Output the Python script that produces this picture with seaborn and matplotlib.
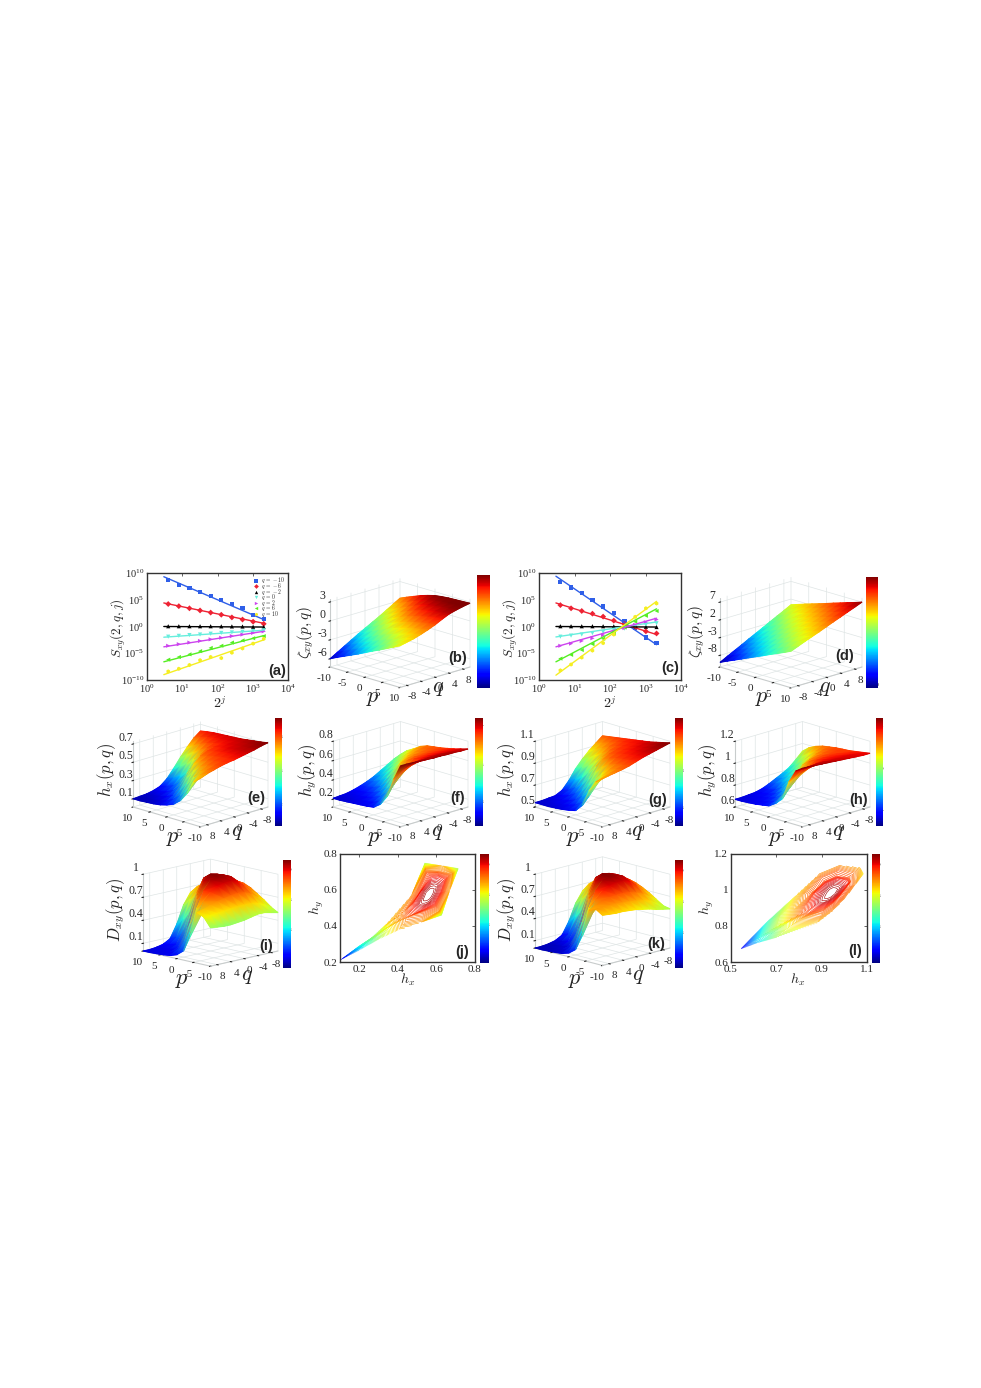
import numpy as np
import pandas as pd
import matplotlib
matplotlib.use("Agg")
import matplotlib.pyplot as plt
import seaborn as sns
from matplotlib.cm import ScalarMappable
from matplotlib.collections import TriMesh
from matplotlib.colors import Normalize
from matplotlib.transforms import IdentityTransform
from matplotlib.tri import Triangulation
from mpl_toolkits.mplot3d import proj3d

W, H = 981, 1388

# scales of the structure function panels
scale_x = [4, 8, 16, 32, 64, 128, 256, 512, 1024, 2048]
fit_x = [3, 2048]
q_names = ["$q\\,=\\,-10$", "$q\\,=\\,-6$", "$q\\,=\\,-2$", "$q\\,=\\,0$", "$q\\,=\\,2$", "$q\\,=\\,6$", "$q\\,=\\,10$"]
q_colors = ["#2f5fe8", "#ee2233", "#000000", "#66eedd", "#cc44ee", "#55ee22", "#f5ee22"]
q_markers = ["s", "D", "^", "v", ">", "<", "h"]

# log10 S values, panel a
a_points = [
    [8.7, 7.8, 7.2, 6.4, 5.7, 5.0, 4.2, 3.4, 2.2, 1.4],
    [4.2, 3.8, 3.4, 3.0, 2.6, 2.2, 1.7, 1.3, 0.9, 0.5],
    [0.05, 0.05, 0.05, 0.05, 0.05, 0.03, 0.02, 0.0, -0.05, -0.1],
    [-1.9, -1.75, -1.6, -1.5, -1.35, -1.2, -1.1, -1.0, -0.85, -0.7],
    [-3.6, -3.3, -3.0, -2.7, -2.4, -2.1, -1.8, -1.5, -1.2, -0.9],
    [-6.2, -5.7, -5.2, -4.6, -4.0, -3.6, -3.0, -2.6, -2.2, -1.8],
    [-8.4, -7.9, -7.2, -6.3, -5.7, -5.9, -4.9, -4.1, -3.2, -2.3],
]
a_fits = [[9.3, 1.3], [4.4, 0.6], [0.0, -0.1], [-2.0, -0.7], [-3.8, -0.9], [-6.6, -1.7], [-9.0, -2.5]]

# log10 S values, panel c
c_points = [
    [8.3, 7.3, 6.25, 5.0, 3.75, 2.6, 1.05, -0.3, -2.05, -3.1],
    [4.0, 3.4, 2.9, 2.4, 1.85, 1.1, 0.5, -0.2, -0.9, -1.3],
    [0.05, 0.05, 0.05, 0.05, 0.05, 0.03, 0.02, 0.0, -0.05, -0.1],
    [-1.9, -1.7, -1.5, -1.25, -1.0, -0.7, -0.4, 0.0, 0.3, 0.6],
    [-3.6, -3.2, -2.7, -2.2, -1.6, -1.0, -0.3, 0.3, 0.8, 1.3],
    [-6.0, -5.3, -4.4, -3.3, -2.3, -1.3, -0.2, 0.9, 2.0, 2.9],
    [-8.2, -7.1, -5.8, -4.5, -3.1, -1.5, 0.0, 1.8, 3.4, 4.3],
]
c_fits = [[9.4, -3.4], [4.4, -1.5], [0.0, -0.1], [-1.95, 0.85], [-3.8, 1.55], [-6.6, 3.3], [-9.1, 4.7]]

# moment orders of all surfaces: rows are p, columns are q
p_nodes = [10, 8, 6, 4, 2, 0, -2, -4, -6, -8, -10]
q_nodes = [10, 8, 6, 4, 2, 0, -2, -4, -6, -8, -10]

zeta_b = [
    [2.8, 2.6, 2.35, 2.05, 1.55, 1.0, 0.55, 0.15, -0.2, -0.45, -0.7],
    [2.75, 2.55, 2.3, 1.95, 1.45, 0.85, 0.3, -0.15, -0.55, -0.9, -1.25],
    [2.7, 2.45, 2.15, 1.8, 1.25, 0.65, 0.05, -0.45, -0.95, -1.35, -1.8],
    [2.65, 2.35, 2.0, 1.55, 1.0, 0.4, -0.25, -0.8, -1.35, -1.85, -2.35],
    [2.55, 2.2, 1.8, 1.3, 0.7, 0.1, -0.55, -1.15, -1.75, -2.35, -2.85],
    [2.4, 2.0, 1.5, 0.95, 0.35, -0.25, -0.9, -1.55, -2.2, -2.8, -3.4],
    [2.1, 1.6, 1.05, 0.5, -0.1, -0.7, -1.35, -2.0, -2.65, -3.3, -3.95],
    [1.75, 1.15, 0.55, 0.0, -0.6, -1.2, -1.85, -2.5, -3.15, -3.8, -4.45],
    [1.3, 0.65, 0.05, -0.55, -1.15, -1.75, -2.35, -3.0, -3.65, -4.3, -4.95],
    [0.85, 0.2, -0.45, -1.05, -1.65, -2.25, -2.9, -3.5, -4.15, -4.8, -5.45],
    [0.37, -0.3, -0.95, -1.6, -2.2, -2.8, -3.4, -4.05, -4.7, -5.35, -6.0],
]
zeta_d = [
    [7.0, 6.18, 5.41, 4.59, 3.82, 3.0, 2.18, 1.41, 0.64, -0.18, -1.0],
    [6.32, 5.55, 4.73, 3.96, 3.14, 2.32, 1.55, 0.78, -0.04, -0.86, -1.93],
    [5.69, 4.87, 4.1, 3.28, 2.46, 1.69, 0.92, 0.1, -0.72, -1.79, -2.81],
    [5.01, 4.24, 3.42, 2.6, 1.83, 1.06, 0.24, -0.58, -1.65, -2.67, -3.69],
    [4.38, 3.56, 2.74, 1.97, 1.2, 0.38, -0.44, -1.51, -2.53, -3.55, -4.62],
    [3.7, 2.88, 2.11, 1.34, 0.52, -0.3, -1.37, -2.39, -3.41, -4.48, -5.5],
    [3.02, 2.25, 1.48, 0.66, -0.16, -1.23, -2.25, -3.27, -4.34, -5.36, -6.38],
    [2.39, 1.62, 0.8, -0.02, -1.09, -2.11, -3.13, -4.2, -5.22, -6.24, -7.31],
    [1.76, 0.94, 0.12, -0.95, -1.97, -2.99, -4.06, -5.08, -6.1, -7.17, -8.19],
    [1.08, 0.26, -0.81, -1.83, -2.85, -3.92, -4.94, -5.96, -7.03, -8.05, -9.07],
    [0.4, -0.67, -1.69, -2.71, -3.78, -4.8, -5.82, -6.89, -7.91, -8.93, -10.0],
]
hx_e = [
    [0.10, 0.105, 0.11, 0.125, 0.15, 0.21, 0.30, 0.40, 0.49, 0.57, 0.627],
    [0.10, 0.105, 0.115, 0.135, 0.17, 0.24, 0.35, 0.45, 0.53, 0.60, 0.64],
    [0.105, 0.11, 0.125, 0.155, 0.20, 0.28, 0.40, 0.50, 0.57, 0.62, 0.65],
    [0.11, 0.12, 0.145, 0.19, 0.26, 0.34, 0.47, 0.55, 0.60, 0.635, 0.655],
    [0.12, 0.14, 0.18, 0.26, 0.37, 0.45, 0.54, 0.59, 0.62, 0.645, 0.66],
    [0.14, 0.18, 0.26, 0.38, 0.50, 0.567, 0.60, 0.62, 0.635, 0.65, 0.665],
    [0.17, 0.24, 0.35, 0.47, 0.55, 0.59, 0.615, 0.635, 0.65, 0.66, 0.67],
    [0.23, 0.33, 0.45, 0.54, 0.58, 0.605, 0.63, 0.65, 0.66, 0.67, 0.68],
    [0.33, 0.44, 0.53, 0.57, 0.60, 0.615, 0.64, 0.66, 0.67, 0.68, 0.69],
    [0.48, 0.53, 0.565, 0.59, 0.61, 0.625, 0.645, 0.665, 0.68, 0.69, 0.70],
    [0.54, 0.57, 0.59, 0.61, 0.625, 0.635, 0.65, 0.665, 0.68, 0.70, 0.714],
]
# hy tables are written column by column (one line per q)
hy_f_by_q = [
    [0.21, 0.21, 0.215, 0.22, 0.225, 0.23, 0.24, 0.29, 0.39, 0.59, 0.75],
    [0.215, 0.215, 0.22, 0.225, 0.235, 0.25, 0.28, 0.37, 0.50, 0.66, 0.75],
    [0.22, 0.225, 0.23, 0.24, 0.26, 0.29, 0.35, 0.46, 0.58, 0.69, 0.745],
    [0.235, 0.24, 0.25, 0.27, 0.30, 0.36, 0.44, 0.55, 0.63, 0.70, 0.74],
    [0.255, 0.265, 0.28, 0.31, 0.37, 0.46, 0.55, 0.61, 0.66, 0.705, 0.735],
    [0.28, 0.30, 0.33, 0.38, 0.46, 0.57, 0.62, 0.655, 0.68, 0.71, 0.73],
    [0.31, 0.34, 0.39, 0.45, 0.54, 0.60, 0.635, 0.66, 0.685, 0.71, 0.73],
    [0.35, 0.39, 0.45, 0.51, 0.58, 0.615, 0.64, 0.665, 0.685, 0.71, 0.725],
    [0.39, 0.44, 0.50, 0.56, 0.60, 0.625, 0.645, 0.665, 0.685, 0.705, 0.725],
    [0.43, 0.49, 0.54, 0.59, 0.62, 0.635, 0.65, 0.665, 0.685, 0.70, 0.72],
    [0.46, 0.52, 0.56, 0.605, 0.63, 0.64, 0.65, 0.665, 0.68, 0.70, 0.72],
]
hx_g = [
    [0.54, 0.54, 0.545, 0.55, 0.58, 0.65, 0.74, 0.81, 0.87, 0.92, 0.97],
    [0.54, 0.545, 0.55, 0.565, 0.60, 0.68, 0.77, 0.84, 0.90, 0.94, 0.98],
    [0.54, 0.55, 0.56, 0.585, 0.64, 0.72, 0.81, 0.88, 0.93, 0.96, 0.99],
    [0.545, 0.555, 0.575, 0.62, 0.69, 0.78, 0.86, 0.92, 0.96, 0.98, 1.0],
    [0.55, 0.57, 0.60, 0.67, 0.76, 0.85, 0.92, 0.96, 0.98, 1.0, 1.01],
    [0.56, 0.59, 0.65, 0.74, 0.84, 0.93, 0.965, 0.985, 1.0, 1.01, 1.02],
    [0.575, 0.63, 0.71, 0.81, 0.90, 0.96, 0.985, 1.0, 1.01, 1.02, 1.03],
    [0.64, 0.71, 0.79, 0.88, 0.94, 0.98, 1.0, 1.015, 1.025, 1.035, 1.04],
    [0.79, 0.84, 0.89, 0.93, 0.96, 0.99, 1.01, 1.025, 1.035, 1.045, 1.055],
    [0.89, 0.91, 0.93, 0.95, 0.97, 1.0, 1.02, 1.035, 1.05, 1.06, 1.07],
    [0.94, 0.95, 0.96, 0.97, 0.985, 1.005, 1.025, 1.04, 1.055, 1.07, 1.085],
]
hy_h_by_q = [
    [0.67, 0.67, 0.675, 0.68, 0.69, 0.70, 0.74, 0.80, 0.974, 1.09, 1.135],
    [0.67, 0.675, 0.68, 0.685, 0.70, 0.72, 0.78, 0.88, 1.0, 1.09, 1.13],
    [0.675, 0.68, 0.685, 0.70, 0.72, 0.76, 0.84, 0.95, 1.03, 1.095, 1.125],
    [0.68, 0.69, 0.70, 0.72, 0.76, 0.82, 0.91, 1.0, 1.05, 1.10, 1.12],
    [0.695, 0.705, 0.72, 0.76, 0.82, 0.90, 0.98, 1.03, 1.07, 1.10, 1.115],
    [0.72, 0.74, 0.77, 0.81, 0.88, 0.98, 1.03, 1.06, 1.08, 1.095, 1.11],
    [0.75, 0.77, 0.81, 0.86, 0.94, 1.01, 1.04, 1.065, 1.08, 1.095, 1.105],
    [0.78, 0.81, 0.86, 0.92, 0.98, 1.025, 1.05, 1.065, 1.08, 1.09, 1.10],
    [0.815, 0.86, 0.91, 0.96, 1.01, 1.035, 1.05, 1.065, 1.075, 1.09, 1.095],
    [0.87, 0.92, 0.96, 1.0, 1.03, 1.045, 1.055, 1.06, 1.075, 1.085, 1.09],
    [0.93, 0.98, 1.01, 1.03, 1.04, 1.05, 1.055, 1.06, 1.07, 1.08, 1.09],
]
d_i = [
    [0.0, 0.0, 0.01, 0.03, 0.08, 0.25, 0.48, 0.62, 0.68, 0.62, 0.52],
    [0.0, 0.005, 0.01, 0.04, 0.12, 0.34, 0.58, 0.70, 0.74, 0.69, 0.62],
    [0.005, 0.01, 0.02, 0.07, 0.22, 0.46, 0.68, 0.79, 0.80, 0.75, 0.70],
    [0.01, 0.02, 0.04, 0.14, 0.42, 0.72, 0.84, 0.88, 0.85, 0.80, 0.76],
    [0.02, 0.04, 0.12, 0.34, 0.72, 0.93, 0.96, 0.94, 0.88, 0.84, 0.79],
    [0.05, 0.15, 0.42, 0.72, 0.93, 1.0, 0.98, 0.95, 0.89, 0.83, 0.78],
    [0.12, 0.34, 0.64, 0.84, 0.96, 0.98, 0.97, 0.95, 0.87, 0.80, 0.74],
    [0.33, 0.55, 0.74, 0.84, 0.90, 0.92, 0.93, 0.90, 0.82, 0.74, 0.68],
    [0.66, 0.68, 0.71, 0.74, 0.76, 0.78, 0.79, 0.78, 0.74, 0.68, 0.62],
    [0.62, 0.62, 0.63, 0.64, 0.65, 0.66, 0.66, 0.66, 0.64, 0.60, 0.55],
    [0.50, 0.49, 0.48, 0.48, 0.49, 0.50, 0.52, 0.54, 0.54, 0.52, 0.50],
]
d_k = [
    [0.0, 0.0, 0.01, 0.03, 0.08, 0.24, 0.46, 0.60, 0.68, 0.64, 0.56],
    [0.0, 0.005, 0.01, 0.04, 0.12, 0.33, 0.56, 0.70, 0.75, 0.70, 0.64],
    [0.005, 0.01, 0.02, 0.07, 0.22, 0.45, 0.67, 0.79, 0.82, 0.77, 0.70],
    [0.01, 0.02, 0.04, 0.14, 0.42, 0.72, 0.84, 0.89, 0.86, 0.81, 0.75],
    [0.02, 0.04, 0.12, 0.34, 0.72, 0.93, 0.96, 0.94, 0.88, 0.84, 0.78],
    [0.05, 0.15, 0.42, 0.72, 0.93, 1.0, 0.98, 0.95, 0.89, 0.83, 0.76],
    [0.12, 0.34, 0.64, 0.85, 0.96, 0.98, 0.97, 0.95, 0.87, 0.79, 0.72],
    [0.33, 0.56, 0.77, 0.87, 0.91, 0.93, 0.93, 0.90, 0.82, 0.73, 0.67],
    [0.70, 0.74, 0.78, 0.80, 0.81, 0.81, 0.80, 0.77, 0.73, 0.67, 0.61],
    [0.74, 0.74, 0.74, 0.74, 0.73, 0.72, 0.71, 0.69, 0.66, 0.60, 0.55],
    [0.68, 0.67, 0.66, 0.66, 0.65, 0.64, 0.62, 0.60, 0.57, 0.55, 0.53],
]
hy_f = np.array(hy_f_by_q).T
hy_h = np.array(hy_h_by_q).T

# contour rings of panels j and l, outer outline first, last ring is the peak
ring_x_j = [
    [0.10, 0.20, 0.30, 0.40, 0.52, 0.627, 0.67, 0.714, 0.63, 0.54, 0.47, 0.34, 0.20],
    [0.192, 0.272, 0.352, 0.432, 0.528, 0.614, 0.648, 0.683, 0.616, 0.544, 0.488, 0.384, 0.272],
    [0.30, 0.344, 0.404, 0.464, 0.536, 0.60, 0.635, 0.665, 0.605, 0.55, 0.506, 0.43, 0.344],
    [0.43, 0.45, 0.48, 0.51, 0.55, 0.59, 0.62, 0.645, 0.61, 0.575, 0.52, 0.475, 0.445],
    [0.515, 0.52, 0.535, 0.55, 0.565, 0.58, 0.595, 0.605, 0.59, 0.57, 0.54, 0.525, 0.517],
    [0.56, 0.56, 0.56, 0.56, 0.56, 0.56, 0.56, 0.56, 0.56, 0.56, 0.56, 0.56, 0.56],
]
ring_y_j = [
    [0.21, 0.265, 0.325, 0.375, 0.42, 0.46, 0.60, 0.72, 0.735, 0.75, 0.57, 0.41, 0.275],
    [0.283, 0.327, 0.375, 0.415, 0.451, 0.483, 0.595, 0.691, 0.703, 0.715, 0.571, 0.443, 0.335],
    [0.36, 0.389, 0.425, 0.455, 0.482, 0.506, 0.59, 0.68, 0.695, 0.695, 0.575, 0.478, 0.395],
    [0.45, 0.455, 0.465, 0.48, 0.50, 0.525, 0.585, 0.66, 0.675, 0.67, 0.595, 0.52, 0.475],
    [0.525, 0.52, 0.52, 0.525, 0.535, 0.555, 0.585, 0.625, 0.63, 0.625, 0.595, 0.555, 0.535],
    [0.575, 0.575, 0.575, 0.575, 0.575, 0.575, 0.575, 0.575, 0.575, 0.575, 0.575, 0.575, 0.575],
]
ring_d_j = [
    [0.0, 0.25, 0.50, 0.68, 0.72, 0.52, 0.72, 0.50, 0.70, 0.52, 0.74, 0.66, 0.22],
    [0.30, 0.42, 0.60, 0.74, 0.77, 0.74, 0.78, 0.74, 0.77, 0.74, 0.79, 0.72, 0.42],
    [0.55, 0.60, 0.70, 0.79, 0.82, 0.81, 0.83, 0.80, 0.82, 0.81, 0.84, 0.77, 0.62],
    [0.78, 0.80, 0.84, 0.87, 0.88, 0.88, 0.89, 0.87, 0.88, 0.88, 0.89, 0.86, 0.80],
    [0.95, 0.95, 0.95, 0.95, 0.95, 0.95, 0.95, 0.95, 0.95, 0.95, 0.95, 0.95, 0.95],
    [1.0, 1.0, 1.0, 1.0, 1.0, 1.0, 1.0, 1.0, 1.0, 1.0, 1.0, 1.0, 1.0],
]
ring_x_l = [
    [0.54, 0.615, 0.70, 0.88, 0.95, 1.0, 1.05, 1.085, 1.07, 0.98, 0.89, 0.79, 0.66],
    [0.621, 0.681, 0.749, 0.893, 0.949, 0.989, 1.029, 1.057, 1.045, 0.973, 0.901, 0.821, 0.717],
    [0.702, 0.747, 0.798, 0.906, 0.948, 0.978, 1.008, 1.029, 1.02, 0.966, 0.912, 0.852, 0.774],
    [0.805, 0.83, 0.855, 0.915, 0.95, 0.975, 1.0, 1.02, 1.01, 0.97, 0.92, 0.87, 0.83],
    [0.895, 0.90, 0.915, 0.935, 0.95, 0.965, 0.975, 0.985, 0.975, 0.955, 0.93, 0.91, 0.897],
    [0.945, 0.945, 0.945, 0.945, 0.945, 0.945, 0.945, 0.945, 0.945, 0.945, 0.945, 0.945, 0.945],
]
ring_y_l = [
    [0.67, 0.705, 0.735, 0.817, 0.885, 0.95, 1.03, 1.09, 1.125, 1.137, 1.09, 0.974, 0.825],
    [0.733, 0.761, 0.785, 0.851, 0.905, 0.957, 1.021, 1.069, 1.097, 1.107, 1.069, 0.976, 0.857],
    [0.796, 0.817, 0.835, 0.884, 0.925, 0.964, 1.012, 1.048, 1.069, 1.076, 1.048, 0.978, 0.889],
    [0.865, 0.87, 0.88, 0.91, 0.94, 0.97, 1.01, 1.04, 1.055, 1.065, 1.04, 0.985, 0.915],
    [0.935, 0.935, 0.935, 0.945, 0.96, 0.975, 0.995, 1.015, 1.025, 1.03, 1.015, 0.985, 0.955],
    [0.985, 0.985, 0.985, 0.985, 0.985, 0.985, 0.985, 0.985, 0.985, 0.985, 0.985, 0.985, 0.985],
]
ring_d_l = [
    [0.0, 0.25, 0.50, 0.68, 0.74, 0.76, 0.74, 0.62, 0.70, 0.74, 0.74, 0.66, 0.35],
    [0.30, 0.42, 0.60, 0.75, 0.79, 0.81, 0.80, 0.74, 0.77, 0.80, 0.80, 0.75, 0.55],
    [0.55, 0.60, 0.70, 0.80, 0.83, 0.84, 0.84, 0.80, 0.82, 0.84, 0.83, 0.80, 0.68],
    [0.78, 0.80, 0.84, 0.87, 0.89, 0.89, 0.89, 0.87, 0.88, 0.89, 0.89, 0.87, 0.82],
    [0.95, 0.95, 0.95, 0.95, 0.95, 0.95, 0.95, 0.95, 0.95, 0.95, 0.95, 0.95, 0.95],
    [1.0, 1.0, 1.0, 1.0, 1.0, 1.0, 1.0, 1.0, 1.0, 1.0, 1.0, 1.0, 1.0],
]

sns.set_style("white")
plt.rcParams["font.family"] = ["Liberation Serif", "DejaVu Serif"]
plt.rcParams["mathtext.fontset"] = "cm"
plt.rcParams["grid.color"] = "#dfe5e5"
plt.rcParams["grid.linewidth"] = 0.5
plt.rcParams["axes.unicode_minus"] = False
jet = matplotlib.colormaps["jet"]

fig = plt.figure(figsize=(W / 100, H / 100), dpi=100)


def rect(l, t, r, b):
    return [l / W, 1 - b / H, (r - l) / W, (b - t) / H]


def label(x, y, s, size=13, **kw):
    fig.text(x / W, 1 - y / H, s, ha="center", va="center", fontsize=size, **kw)


def letter(x, y, s):
    label(x, y, s, size=10.5, family="Liberation Sans", weight="bold")


def colorbar(box, vmin, vmax, ticks, names):
    cax = fig.add_axes(rect(*box))
    cb = fig.colorbar(ScalarMappable(Normalize(vmin, vmax), jet), cax=cax, ticks=ticks)
    cb.ax.set_yticklabels(names)
    cb.outline.set_visible(False)
    cb.ax.tick_params(length=0, pad=-4, labelsize=3.8, labelcolor="#222222")


def structure_panel(box, points, fits, legend):
    ax = fig.add_axes(rect(*box))
    pts = pd.concat([pd.DataFrame({"x": scale_x, "y": 10.0 ** np.array(v), "q": n}) for v, n in zip(points, q_names)])
    lines = pd.concat([pd.DataFrame({"x": fit_x, "y": 10.0 ** np.array(v), "q": n}) for v, n in zip(fits, q_names)])
    sns.lineplot(data=lines, x="x", y="y", hue="q", palette=q_colors, legend=False, linewidth=1.0, ax=ax)
    sns.scatterplot(data=pts, x="x", y="y", hue="q", style="q", palette=q_colors, markers=q_markers,
                    s=9, linewidth=0, legend=legend, ax=ax)
    ax.set_xscale("log")
    ax.set_yscale("log")
    ax.set_xlim(1, 1e4)
    ax.set_ylim(1e-10, 1e10)
    ax.set_xticks([1, 10, 100, 1000, 10000])
    ax.set_yticks([1e-10, 1e-5, 1, 1e5, 1e10])
    ax.set_yticks([], minor=True)
    ax.set_xlabel("")
    ax.set_ylabel("")
    ax.tick_params(axis="both", which="both", direction="in", top=True, labelsize=7.5, length=2, width=0.5, pad=2)
    for s in ax.spines.values():
        s.set_linewidth(1.0)
        s.set_color("#333333")
    if legend:
        ax.legend(loc="upper right", bbox_to_anchor=(1.0, 1.0), frameon=False, fontsize=4.0, labelspacing=-0.8,
                  handletextpad=0.0, borderpad=0.35, borderaxespad=0.1, markerscale=0.8)


def floor_pixel(ax, a, b, z0):
    ax.apply_aspect()
    u, v, _ = proj3d.proj_transform(a, b, z0, ax.get_proj())
    return ax.transData.transform((u, v))


def fit_box(ax, xl, xr, yfloor):
    # move the 3d axes so that its floor corners land on the wanted pixels
    x0, x1 = ax.get_xlim()
    y0, y1 = ax.get_ylim()
    z0 = ax.get_zlim()[0]
    if ax.azim < 0:
        left, right = (x0, y0), (x1, y1)
    else:
        left, right = (x1, y1), (x0, y0)
    size = 200.0
    cx, cy = 400.0, 400.0
    ax.set_position([(cx - size / 2) / W, (cy - size / 2) / H, size / W, size / H])
    pl = floor_pixel(ax, left[0], left[1], z0)
    pr = floor_pixel(ax, right[0], right[1], z0)
    size *= (xr - xl) / (pr[0] - pl[0])
    ax.set_position([(cx - size / 2) / W, (cy - size / 2) / H, size / W, size / H])
    pl = floor_pixel(ax, left[0], left[1], z0)
    cx += xl - pl[0]
    cy += (H - yfloor) - pl[1]
    ax.set_position([(cx - size / 2) / W, (cy - size / 2) / H, size / W, size / H])


def smooth_shading(ax, P, Q, Z, vmin, vmax):
    # same nodes as the surface, shaded smoothly; triangles painted back to front
    ax.apply_aspect()
    u, v, depth = proj3d.proj_transform(P.ravel(), Q.ravel(), Z.ravel(), ax.get_proj())
    pix = ax.transData.transform(np.column_stack([u, v]))
    rows, cols = P.shape
    ids = np.arange(rows * cols).reshape(rows, cols)
    tris = []
    for i in range(rows - 1):
        for j in range(cols - 1):
            tris.append([ids[i, j], ids[i + 1, j], ids[i + 1, j + 1]])
            tris.append([ids[i, j], ids[i + 1, j + 1], ids[i, j + 1]])
    tris = np.array(tris)
    tris = tris[np.argsort(-depth[tris].mean(axis=1))]
    mesh = TriMesh(Triangulation(pix[:, 0], pix[:, 1], tris))
    mesh.set_array(Z.ravel())
    mesh.set_cmap(jet)
    mesh.set_norm(Normalize(vmin, vmax))
    mesh.set_transform(IdentityTransform())
    fig.add_artist(mesh)


def surface_panel(z, azim, xl, xr, yfloor, zlim, zticks, znames, vmin, vmax, elev=17, tall=0.72):
    ax = fig.add_axes([0, 0, 0.2, 0.2], projection="3d")
    P, Q = np.meshgrid(p_nodes, q_nodes, indexing="ij")
    Z = np.array(z)
    surf = ax.plot_surface(P, Q, Z, cmap=jet, vmin=vmin, vmax=vmax, rstride=1, cstride=1,
                           linewidth=0.3, antialiased=True, shade=False)
    surf.set_edgecolor(surf.to_rgba(surf.get_array()))
    ax.set_proj_type("ortho")
    ax.view_init(elev=elev, azim=azim)
    ax.set_box_aspect((1, 1, tall))
    ax.set_xlim(-10, 10, view_margin=0)
    ax.set_ylim(-10, 10, view_margin=0)
    ax.set_zlim(*zlim, view_margin=0)
    ax.set_xticks([-10, -5, 0, 5, 10])
    ax.set_yticks([-8, -4, 0, 4, 8])
    ax.set_zticks(zticks)
    ax.set_zticklabels(znames, va="bottom")
    ax.set_facecolor("none")
    for axis in (ax.xaxis, ax.yaxis, ax.zaxis):
        axis.set_pane_color((1, 1, 1, 0))
        axis.pane.set_edgecolor("#dfe5e5")
        axis.line.set_color("#c8cccc")
    ax.zaxis.set_ticks_position("lower" if azim < 0 else "upper")
    ax.tick_params(axis="x", labelsize=8, pad=-3.5, length=0)
    ax.tick_params(axis="y", labelsize=8, pad=-3.5, length=0)
    ax.tick_params(axis="z", labelsize=8.5, pad=-5, length=0)
    fit_box(ax, xl, xr, yfloor)
    smooth_shading(ax, P, Q, Z, vmin, vmax)
    return ax


def contour_panel(box, ring_x, ring_y, ring_d, lim_x, lim_y, ticks_x, ticks_y, names_x, names_y):
    ax = fig.add_axes(rect(*box))
    # rings are closed by repeating their first node
    X, Y, D = [np.column_stack([np.array(a), np.array(a)[:, 0]]) for a in (ring_x, ring_y, ring_d)]
    ax.contour(X, Y, D, levels=np.arange(0.02, 0.97, 0.012), cmap=jet, vmin=-0.09, vmax=1.0, linewidths=0.42)
    ax.set_xlim(*lim_x)
    ax.set_ylim(*lim_y)
    ax.set_xticks(ticks_x)
    ax.set_yticks(ticks_y)
    ax.set_xticklabels(names_x)
    ax.set_yticklabels(names_y)
    ax.tick_params(direction="in", labelsize=8, length=2, width=0.5, pad=2, top=True, right=True)
    for s in ax.spines.values():
        s.set_linewidth(1.0)
        s.set_color("#333333")


# first row
structure_panel((147, 573, 288, 680), a_points, a_fits, "full")
surface_panel(zeta_b, -45, 330, 470, 667, (-7.3, 3.5), [-6, -3, 0, 3], ["-6", "-3", "0", "3"], -6.4, 2.5)
colorbar((477, 575, 490, 688), -6.4, 2.5, [-6, -4, -2, 0, 2], ["-6", "-4", "-2", "0", "2"])
structure_panel((539, 573, 681, 680), c_points, c_fits, False)
surface_panel(zeta_d, -45, 720, 862, 667, (-11.3, 8.2), [-8, -3, 2, 7], ["-8", "-3", "2", "7"], -10.5, 7.2)
colorbar((866, 577, 878, 688), -10.5, 7.2, [-10, -6, -2, 2, 6], ["-10", "-6", "-2", "2", "6"])

# second row
surface_panel(hx_e, 135, 133, 268, 807, (0.01, 0.73), [0.1, 0.3, 0.5, 0.7], ["0.1", "0.3", "0.5", "0.7"], 0.07, 0.71)
colorbar((275, 718, 282, 826), 0.07, 0.71, [0.2, 0.4, 0.6], ["0.2", "0.4", "0.6"])
surface_panel(hy_f, 135, 333, 468, 807, (0.12, 0.8), [0.2, 0.4, 0.6, 0.8], ["0.2", "0.4", "0.6", "0.8"], 0.17, 0.745)
colorbar((475, 718, 483, 826), 0.17, 0.745, [0.3, 0.5, 0.7], ["0.3", "0.5", "0.7"])
surface_panel(hx_g, 135, 535, 670, 807, (0.5, 1.1), [0.5, 0.7, 0.9, 1.1], ["0.5", "0.7", "0.9", "1.1"], 0.50, 1.08)
colorbar((675, 718, 683, 826), 0.50, 1.08, [0.6, 0.8, 1.0], ["0.6", "0.8", "1"])
surface_panel(hy_h, 135, 735, 870, 807, (0.6, 1.2), [0.6, 0.8, 1.0, 1.2], ["0.6", "0.8", "1", "1.2"], 0.63, 1.135)
colorbar((876, 718, 883, 826), 0.63, 1.135, [0.7, 0.9, 1.1], ["0.7", "0.9", "1.1"])

# third row
surface_panel(d_i, 135, 143, 278, 951, (0.0, 1.0), [0.1, 0.4, 0.7, 1.0], ["0.1", "0.4", "0.7", "1"], -0.09, 1.0,
              elev=13, tall=0.825)
colorbar((283, 860, 291, 968), -0.09, 1.0, [0, 0.3, 0.6, 0.9], ["0", "0.3", "0.6", "0.9"])
contour_panel((340, 854, 475, 962), ring_x_j, ring_y_j, ring_d_j, (0.1, 0.8), (0.2, 0.8), [0.2, 0.4, 0.6, 0.8],
              [0.2, 0.4, 0.6, 0.8], ["0.2", "0.4", "0.6", "0.8"], ["0.2", "0.4", "0.6", "0.8"])
colorbar((480, 854, 489, 963), -0.09, 1.0, [0, 0.3, 0.6, 0.9], ["0", "0.3", "0.6", "0.9"])
surface_panel(d_k, 135, 535, 670, 948, (0.0, 1.0), [0.1, 0.4, 0.7, 1.0], ["0.1", "0.4", "0.7", "1"], -0.05, 1.0,
              elev=15, tall=0.8)
colorbar((675, 860, 683, 968), -0.05, 1.0, [0, 0.3, 0.6, 0.9], ["0", "0.3", "0.6", "0.9"])
contour_panel((731, 854, 867, 962), ring_x_l, ring_y_l, ring_d_l, (0.5, 1.1), (0.6, 1.2), [0.5, 0.7, 0.9, 1.1],
              [0.6, 0.8, 1.0, 1.2], ["0.5", "0.7", "0.9", "1.1"], ["0.6", "0.8", "1", "1.2"])
colorbar((872, 854, 880, 963), -0.05, 1.0, [0, 0.3, 0.6, 0.9], ["0", "0.3", "0.6", "0.9"])

# axis names
label(118, 628, "$S_{xy}(2,q,j)$", size=9.5, rotation=90)
label(220, 703, "$2^j$", size=10)
label(510, 628, "$S_{xy}(2,q,j)$", size=9.5, rotation=90)
label(610, 703, "$2^j$", size=10)
label(306, 633, "$\\zeta_{xy}(p,q)$", size=11, rotation=90)
label(697, 632, "$\\zeta_{xy}(p,q)$", size=11, rotation=90)
label(107, 770, "$h_x(p,q)$", size=12, rotation=90)
label(308, 770, "$h_y(p,q)$", size=12, rotation=90)
label(507, 770, "$h_x(p,q)$", size=12, rotation=90)
label(708, 770, "$h_y(p,q)$", size=12, rotation=90)
label(116, 910, "$D_{xy}(p,q)$", size=12, rotation=90)
label(507, 910, "$D_{xy}(p,q)$", size=12, rotation=90)
label(317, 908, "$h_y$", size=10, rotation=90)
label(408, 980, "$h_x$", size=10)
label(707, 908, "$h_y$", size=10, rotation=90)
label(798, 980, "$h_x$", size=10)
for x, y, s in [(373, 699, "p"), (438, 689, "q"), (762, 698, "p"), (825, 688, "q"),
                (173, 838, "p"), (237, 833, "q"), (374, 839, "p"), (437, 833, "q"),
                (573, 838, "p"), (637, 833, "q"), (775, 838, "p"), (838, 833, "q"),
                (182, 980, "p"), (247, 977, "q"), (575, 980, "p"), (638, 977, "q")]:
    label(x, y, "$" + s + "$", size=16)

for x, y, s in [(277, 671, "(a)"), (458, 658, "(b)"), (670, 668, "(c)"), (845, 656, "(d)"),
                (256, 798, "(e)"), (458, 798, "(f)"), (658, 800, "(g)"), (859, 800, "(h)"),
                (266, 946, "(i)"), (462, 952, "(j)"), (656, 944, "(k)"), (855, 951, "(l)")]:
    letter(x, y, s)

fig.savefig("out.png", dpi=100)
